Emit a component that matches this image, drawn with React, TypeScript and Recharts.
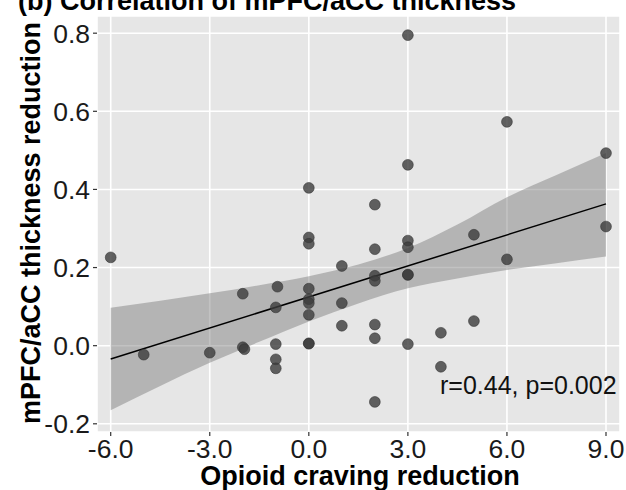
import React from "react";
import {
    ComposedChart,
    Scatter,
    Line,
    Area,
    XAxis,
    YAxis,
    CartesianGrid,
} from "recharts";

// subject-level points: craving reduction vs thickness reduction
const cravingReduction = [
    -6, -5, -3, -2, -2, -1.95, -1, -1, -1, -1, -0.95,
    0, 0, 0, 0, 0, 0, 0, 0, 0,
    1, 1, 1,
    2, 2, 2, 2, 2, 2, 2,
    3, 3, 3, 3, 3, 3, 3,
    4, 4, 5, 5, 6, 6, 9, 9,
];
const thicknessReduction = [
    0.226, -0.023, -0.018, 0.133, -0.004, -0.009, 0.098, -0.035, -0.058, 0.004, 0.151,
    0.404, 0.277, 0.261, 0.146, 0.119, 0.109, 0.079, 0.006, 0.005,
    0.204, 0.109, 0.051,
    0.361, 0.247, 0.179, 0.166, 0.054, 0.019, -0.144,
    0.795, 0.463, 0.269, 0.252, 0.181, 0.182, 0.004,
    0.033, -0.054, 0.284, 0.063, 0.573, 0.221, 0.493, 0.305,
];

// confidence band of the linear fit
const bandX = [-6, -4.5, -3, -1.5, 0, 1.5, 3, 4.5, 6, 7.5, 9];
const bandLow = [-0.165, -0.103, -0.044, 0.01, 0.062, 0.108, 0.147, 0.172, 0.194, 0.211, 0.228];
const bandHigh = [0.097, 0.115, 0.134, 0.155, 0.178, 0.208, 0.25, 0.31, 0.38, 0.437, 0.493];

// fitted line end points
const fitX = [-6, 9];
const fitY = [-0.034, 0.363];

const xTicks = [-6, -3, 0, 3, 6, 9];
const yTicks = [-0.2, 0, 0.2, 0.4, 0.6, 0.8];

const points = cravingReduction.map((x, i) => ({ x, y: thicknessReduction[i] }));
const bandData = bandX.map((x, i) => {
    const k = fitX.indexOf(x);
    return {
        x,
        band: [bandLow[i], bandHigh[i]],
        fit: k >= 0 ? fitY[k] : null,
    };
});

const FONT = "'Liberation Sans', Arial, Helvetica, sans-serif";

const Dot = (props: any) => {
    const { cx, cy } = props;
    if (cx == null || cy == null) return null;
    return (
        <circle
            cx={cx}
            cy={cy}
            r={5.4}
            fill="#3c3c3c"
            fillOpacity={0.8}
            stroke="#333"
            strokeOpacity={0.7}
            strokeWidth={0.8}
        />
    );
};

export default function App() {
    return (
        <div style={{ position: "absolute", left: 0, top: 0, width: 626, height: 490, fontFamily: FONT }}>
            <ComposedChart
                width={626}
                height={490}
                data={bandData}
                margin={{ top: 16, right: 6, left: 0, bottom: 0 }}
            >
                <CartesianGrid
                    fill="#e6e6e6"
                    fillOpacity={1}
                    stroke="#ffffff"
                    strokeWidth={1.6}
                />
                <XAxis
                    type="number"
                    dataKey="x"
                    domain={[-6.415, 9.424]}
                    ticks={xTicks}
                    allowDataOverflow
                    tickFormatter={(v: number) => v.toFixed(1)}
                    axisLine={false}
                    tickSize={4}
                    tickMargin={3}
                    tickLine={{ stroke: "#333", strokeWidth: 1.2 }}
                    tick={{ fill: "#1a1a1a", fontSize: 26.5, fontFamily: FONT }}
                    height={58}
                />
                <YAxis
                    type="number"
                    domain={[-0.221, 0.844]}
                    ticks={yTicks}
                    allowDataOverflow
                    tickFormatter={(v: number) => v.toFixed(1)}
                    axisLine={false}
                    tickSize={4}
                    tickMargin={3}
                    tickLine={{ stroke: "#333", strokeWidth: 1.2 }}
                    tick={{ fill: "#1a1a1a", fontSize: 26.5, fontFamily: FONT }}
                    width={97}
                />
                <Area
                    type="monotone"
                    dataKey="band"
                    fill="#777777"
                    fillOpacity={0.45}
                    stroke="none"
                    isAnimationActive={false}
                    activeDot={false}
                />
                <Line
                    type="linear"
                    dataKey="fit"
                    stroke="#000"
                    strokeWidth={1.5}
                    dot={false}
                    activeDot={false}
                    connectNulls
                    isAnimationActive={false}
                />
                <Scatter data={points} dataKey="y" shape={Dot} isAnimationActive={false} />
            </ComposedChart>
            <svg
                width={626}
                height={490}
                style={{ position: "absolute", left: 0, top: 0, pointerEvents: "none" }}
            >
                <text x={18} y={10} fontSize={27} fontWeight="bold" fill="#000" fontFamily={FONT}>
                    (b) Correlation of mPFC/aCC thickness
                </text>
                <text
                    x={0}
                    y={0}
                    transform="translate(40,223) rotate(-90)"
                    textAnchor="middle"
                    fontSize={27}
                    fontWeight="bold"
                    fill="#000"
                    fontFamily={FONT}
                >
                    mPFC/aCC thickness reduction
                </text>
                <text x={360} y={485} textAnchor="middle" fontSize={27} fontWeight="bold" fill="#000" fontFamily={FONT}>
                    Opioid craving reduction
                </text>
                <text x={440} y={394} fontSize={25} fill="#111" fontFamily={FONT}>
                    r=0.44, p=0.002
                </text>
            </svg>
        </div>
    );
}
